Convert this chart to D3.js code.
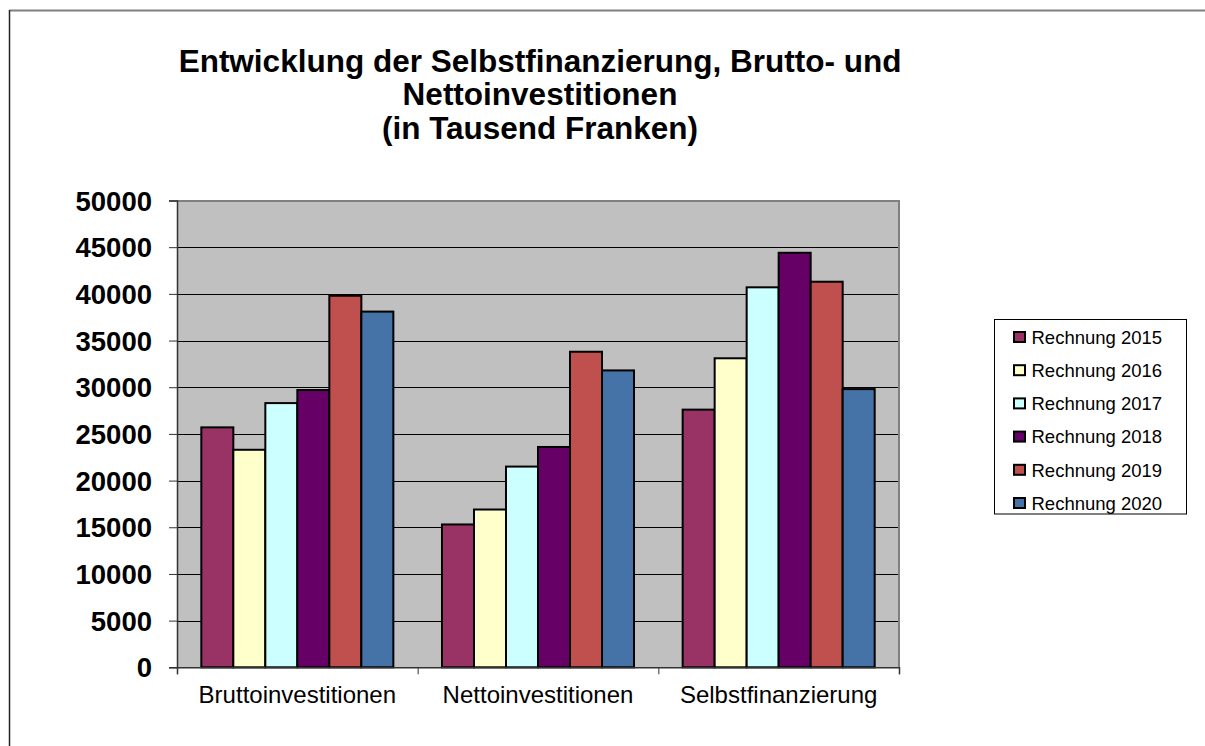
<!DOCTYPE html>
<html>
<head>
<meta charset="utf-8">
<script src="https://cdn.jsdelivr.net/npm/d3@7"></script>
<style>
  html, body { margin: 0; padding: 0; background: #fff; }
  svg { display: block; }
  text { font-family: "Liberation Sans", Arial, sans-serif; }
</style>
</head>
<body>
<svg id="chart" width="1205" height="746"></svg>
<script>
const categories = ["Bruttoinvestitionen", "Nettoinvestitionen", "Selbstfinanzierung"];
const seriesNames = ["Rechnung 2015", "Rechnung 2016", "Rechnung 2017", "Rechnung 2018", "Rechnung 2019", "Rechnung 2020"];
const rechnung2015 = [25700, 15300, 27600];
const rechnung2016 = [23300, 16900, 33100];
const rechnung2017 = [28300, 21500, 40700];
const rechnung2018 = [29700, 23600, 44400];
const rechnung2019 = [39800, 33800, 41300];
const rechnung2020 = [38100, 31800, 29800];
const seriesValues = [rechnung2015, rechnung2016, rechnung2017, rechnung2018, rechnung2019, rechnung2020];
const seriesColors = ["#993366", "#FFFFCC", "#CCFFFF", "#660066", "#C0504D", "#4572A7"];
const yTicks = [0, 5000, 10000, 15000, 20000, 25000, 30000, 35000, 40000, 45000, 50000];
const titleLines = ["Entwicklung der Selbstfinanzierung, Brutto- und", "Nettoinvestitionen", "(in Tausend Franken)"];

const svg = d3.select("#chart");

// outer chart border (top and left visible)
svg.append("line").attr("x1", 9.5).attr("x2", 1205).attr("y1", 10.5).attr("y2", 10.5)
  .attr("stroke", "#808080").attr("stroke-width", 2);
svg.append("line").attr("x1", 9.5).attr("x2", 9.5).attr("y1", 10).attr("y2", 746)
  .attr("stroke", "#222").attr("stroke-width", 1.5);

const plot = { left: 177, right: 899, top: 200.5, bottom: 667.3 };

const y = d3.scaleLinear().domain([0, 50000]).range([plot.bottom, plot.top]);
const x0 = d3.scaleBand().domain(categories).range([plot.left, plot.right]).padding(0);
const x1 = d3.scaleBand().domain(seriesNames).range([0, x0.bandwidth()]).paddingInner(0).paddingOuter(0.76);
const xb = d3.scaleLinear().domain([0, categories.length]).range([plot.left, plot.right]);

// plot background
svg.append("rect").attr("x", plot.left).attr("y", plot.top)
  .attr("width", plot.right - plot.left).attr("height", plot.bottom - plot.top)
  .attr("fill", "#C0C0C0");

// gridlines
svg.append("g").selectAll("line").data(yTicks.filter(d => d > 0)).join("line")
  .attr("x1", plot.left).attr("x2", plot.right)
  .attr("y1", d => Math.round(y(d)) + 0.5).attr("y2", d => Math.round(y(d)) + 0.5)
  .attr("stroke", "#000").attr("stroke-width", 1);

// plot border top/right
svg.append("path")
  .attr("d", `M${plot.left},${plot.top + 0.5}H${plot.right}V${plot.bottom}`)
  .attr("fill", "none").attr("stroke", "#808080").attr("stroke-width", 2);

// bars
const groups = svg.append("g").selectAll("g").data(categories).join("g")
  .attr("transform", d => `translate(${x0(d)},0)`);
groups.selectAll("rect")
  .data((c, ci) => seriesNames.map((s, si) => ({ s, si, v: seriesValues[si][ci] })))
  .join("rect")
  .attr("x", d => x1(d.s))
  .attr("y", d => y(d.v))
  .attr("width", x1.bandwidth())
  .attr("height", d => y(0) - y(d.v))
  .attr("fill", d => seriesColors[d.si])
  .attr("stroke", "#000").attr("stroke-width", 2);

// y axis
const yAxis = svg.append("g").attr("transform", `translate(${plot.left},0)`)
  .call(d3.axisLeft(y).tickValues(yTicks).tickFormat(d3.format("d")).tickSize(8).tickPadding(17));
yAxis.select(".domain").attr("stroke", "#333").attr("stroke-width", 1.5);
yAxis.selectAll(".tick line").attr("stroke", "#333");
yAxis.selectAll("text").attr("font-size", 27.5).attr("font-weight", "bold").attr("fill", "#000")
  .attr("dy", "0.35em")
  .attr("font-family", "'Liberation Sans', Arial, sans-serif");

// x axis: boundary ticks
const xAxis = svg.append("g").attr("transform", `translate(0,${plot.bottom})`)
  .call(d3.axisBottom(xb).tickValues(d3.range(categories.length + 1)).tickFormat("").tickSize(7));
xAxis.select(".domain").attr("stroke", "#333").attr("stroke-width", 1.5);
xAxis.selectAll(".tick line").attr("stroke", "#333");

// category labels
const xLab = svg.append("g").attr("transform", `translate(0,${plot.bottom})`)
  .call(d3.axisBottom(x0).tickSize(0).tickPadding(0));
xLab.select(".domain").remove();
xLab.selectAll("text").attr("font-size", 24).attr("fill", "#000")
  .attr("y", 36).attr("dy", 0)
  .attr("font-family", "'Liberation Sans', Arial, sans-serif");

// title
svg.append("g").selectAll("text").data(titleLines).join("text")
  .attr("x", 540).attr("y", (d, i) => 71.5 + i * 33.5)
  .attr("text-anchor", "middle")
  .attr("font-size", 31.5).attr("font-weight", "bold").attr("fill", "#000")
  .text(d => d);

// legend
const legend = svg.append("g").attr("transform", "translate(994,319.5)");
legend.append("rect").attr("x", 0.5).attr("y", 0).attr("width", 192).attr("height", 194.5)
  .attr("fill", "#fff").attr("stroke", "#000").attr("stroke-width", 1);
const items = legend.selectAll("g.item").data(seriesNames).join("g").attr("class", "item")
  .attr("transform", (d, i) => `translate(0,${17.5 + i * 33.2})`);
items.append("rect").attr("x", 20).attr("y", -5).attr("width", 11).attr("height", 10)
  .attr("fill", (d, i) => seriesColors[i]).attr("stroke", "#000").attr("stroke-width", 2);
items.append("text").attr("x", 37.5).attr("y", 6.8).attr("font-size", 18.5).attr("fill", "#000")
  .text(d => d);
</script>
</body>
</html>
